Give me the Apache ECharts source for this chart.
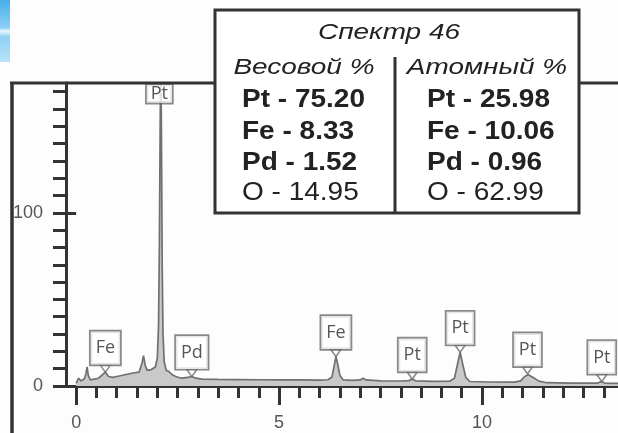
<!DOCTYPE html>
<html>
<head>
<meta charset="utf-8">
<script src="https://cdn.jsdelivr.net/npm/echarts@6/dist/echarts.min.js"></script>
<style>
html,body{margin:0;padding:0;background:#fdfdfd;}
#chart{width:618px;height:433px;}
</style>
</head>
<body>
<div id="chart"></div>
<script>
// Spectrum (energy keV, counts)
var energyKeV = [0.00,0.06,0.12,0.20,0.24,0.27,0.30,0.35,0.45,0.55,0.65,0.72,0.80,0.90,1.00,1.20,1.40,1.55,1.62,1.66,1.70,1.75,1.85,1.95,2.00,2.03,2.05,2.07,2.085,2.10,2.12,2.14,2.17,2.22,2.28,2.32,2.37,2.45,2.60,2.75,2.85,2.95,3.10,3.50,4.00,4.50,5.00,5.50,6.00,6.20,6.30,6.36,6.40,6.44,6.50,6.58,6.80,7.00,7.07,7.14,7.50,8.00,8.20,8.28,8.36,8.80,9.20,9.32,9.40,9.46,9.52,9.60,9.70,10.20,10.80,10.95,11.05,11.14,11.25,11.40,11.60,12.20,12.85,12.94,13.02,13.35];
var counts    = [1.5,4.5,3.0,4.0,7.0,11.0,6.0,3.5,4.0,4.5,6.5,8.0,5.5,5.0,5.5,6.5,7.5,8.0,13.0,17.5,12.0,9.0,9.5,11.0,16.0,35.0,80.0,150.0,190.0,150.0,70.0,30.0,14.0,9.0,8.5,9.0,6.5,5.5,4.5,5.0,5.5,4.5,4.0,3.8,3.7,3.6,3.5,3.5,3.4,3.6,5.0,12.0,17.0,13.0,6.0,3.5,3.2,3.5,4.5,3.5,3.0,2.9,3.1,4.0,3.0,2.7,2.8,4.5,13.0,19.5,13.0,5.0,2.6,2.3,2.2,3.0,5.5,6.5,5.0,2.8,1.9,1.7,1.7,2.6,1.7,1.5];

// Peak callouts
var calloutNames = ['Fe','Pd','Fe','Pt','Pt','Pt','Pt'];
var calloutX     = [0.72, 2.85, 6.40, 8.28, 9.46, 11.12, 12.95];
var calloutY     = [8.0, 5.5, 17.0, 4.0, 19.5, 7.0, 2.6];
var mainPeakName = 'Pt';
var mainPeakX = 2.05;
var mainPeakY = 163;

// Axis ticks and labels
var xTicks = [0,0.5,1,1.5,2,2.5,3,3.5,4,4.5,5,5.5,6,6.5,7,7.5,8,8.5,9,9.5,10,10.5,11,11.5,12,12.5,13];
var xMajor = [0,5,10];
var yTicks = [0,10,20,30,40,50,60,70,80,90,100,110,120,130,140,150,160,170];
var yMajor = [0,100];

// Table text
var tableTitle = 'Спектр 46';
var headerWeight = 'Весовой %';
var headerAtomic = 'Атомный %';
var weightRows = ['Pt - 75.20','Fe - 8.33','Pd - 1.52','O - 14.95'];
var atomicRows = ['Pt - 25.98','Fe - 10.06','Pd - 0.96','O - 62.99'];
var rowBold = [true,true,true,false];

var lineData = energyKeV.map(function(x,i){return [x, counts[i]];});
var calloutData = calloutNames.map(function(n,i){return {value:[calloutX[i], calloutY[i]], name:n};});

var FONT = '"Liberation Sans", Arial, sans-serif';
var axisCol = '#333';

var graphics = [];
// decorative blue corner
graphics.push({type:'rect', shape:{x:0,y:0,width:10,height:62}, style:{fill:new echarts.graphic.LinearGradient(0,0,0,1,[{offset:0,color:'#49aeea'},{offset:0.45,color:'#8ccff5'},{offset:0.5,color:'#e8f6fd'},{offset:0.6,color:'#8fd0f4'},{offset:1,color:'#b9e2f8'}])}, z:10});
// outer frame
graphics.push({type:'line', shape:{x1:12,y1:83,x2:12,y2:433}, style:{stroke:axisCol,lineWidth:3.5}, z:10});
graphics.push({type:'line', shape:{x1:10,y1:83,x2:618,y2:83}, style:{stroke:axisCol,lineWidth:3}, z:10});
// table box
graphics.push({type:'rect', shape:{x:215,y:10,width:364,height:203}, style:{fill:'#fff',stroke:axisCol,lineWidth:3}, z:20});
graphics.push({type:'line', shape:{x1:395,y1:57,x2:395,y2:213}, style:{stroke:axisCol,lineWidth:3}, z:21});
function txt(s, x, y, font, align, sx){
  graphics.push({type:'text', x:x, y:y, scaleX:sx||1, z:22,
    style:{text:s, x:0, y:0, font:font, fill:'#222', textAlign:align, textVerticalAlign:'middle'}});
}
txt(tableTitle, 389, 33, 'italic 22px '+FONT, 'center', 1.27);
txt(headerWeight, 304, 68, 'italic 22px '+FONT, 'center', 1.27);
txt(headerAtomic, 487, 68, 'italic 22px '+FONT, 'center', 1.27);
var rowYs = [100,132,163,193];
for (var i=0;i<weightRows.length;i++){
  var f = (rowBold[i]?'bold ':'')+'25px '+FONT;
  txt(weightRows[i], 242, rowYs[i], f, 'left', 1.12);
  txt(atomicRows[i], 427, rowYs[i], f, 'left', 1.12);
}

var calloutLabel = {show:true, position:'top', distance:0, formatter:'{b}',
  backgroundColor:'#fff', borderColor:'#6a6a6a', borderWidth:1.7, padding:[7,5,7,5],
  fontSize:18, color:'#2a2a2a', fontFamily:'"Open Sans", sans-serif', lineHeight:19};

var chart = echarts.init(document.getElementById('chart'), null, {renderer:'canvas'});
chart.setOption({
  animation:false,
  backgroundColor:'#fdfdfd',
  grid:{left:66, right:0, top:83, bottom:47, containLabel:false},
  xAxis:[{
    type:'value', min:-0.25, max:13.35, position:'bottom',
    axisLine:{show:true, onZero:false, lineStyle:{color:axisCol, width:3}},
    axisTick:{show:true, customValues:xTicks, length:12, lineStyle:{color:axisCol, width:3}},
    axisLabel:{show:true, customValues:xMajor, margin:28, fontSize:18, color:'#555', fontFamily:FONT},
    splitLine:{show:false}
  },{
    type:'value', min:-0.25, max:13.35, position:'bottom', offset:0,
    axisLine:{show:false},
    axisTick:{show:true, customValues:xMajor, length:19, lineStyle:{color:axisCol, width:3}},
    axisLabel:{show:false},
    splitLine:{show:false}
  }],
  yAxis:[{
    type:'value', min:0, max:175, position:'left',
    axisLine:{show:true, onZero:false, lineStyle:{color:axisCol, width:3}},
    axisTick:{show:true, customValues:yTicks, length:13, lineStyle:{color:axisCol, width:3}},
    axisLabel:{show:true, customValues:yMajor, margin:23, fontSize:18, color:'#555', fontFamily:FONT},
    splitLine:{show:false}
  },{
    type:'value', min:0, max:175, position:'left', offset:0,
    axisLine:{show:false},
    axisTick:{show:true, customValues:yMajor, length:19, lineStyle:{color:axisCol, width:3}},
    axisLabel:{show:false},
    splitLine:{show:false}
  }],
  series:[{
    type:'line', data:lineData, xAxisIndex:0, yAxisIndex:0,
    showSymbol:false, symbol:'none', clip:true,
    lineStyle:{color:'#707070', width:1.7},
    areaStyle:{color:'#c9c9c9', opacity:1},
    z:2
  },{
    type:'scatter', data:calloutData, xAxisIndex:0, yAxisIndex:0,
    symbol:'path://M0,0 L10,0 L5,7 Z', symbolSize:[10,7], symbolOffset:[0,'-50%'],
    itemStyle:{color:'#fff', borderColor:'#6a6a6a', borderWidth:1.4},
    label:calloutLabel,
    z:5
  },{
    type:'scatter', data:[{value:[mainPeakX, mainPeakY], name:mainPeakName}], xAxisIndex:0, yAxisIndex:0,
    symbol:'rect', symbolSize:[2,1], symbolOffset:[0,'-50%'], clip:false,
    itemStyle:{color:'rgba(0,0,0,0)', borderWidth:0},
    label:Object.assign({}, calloutLabel, {padding:[0,4,0,4], lineHeight:18}),
    z:6
  }],
  graphic:graphics
});
</script>
</body>
</html>
